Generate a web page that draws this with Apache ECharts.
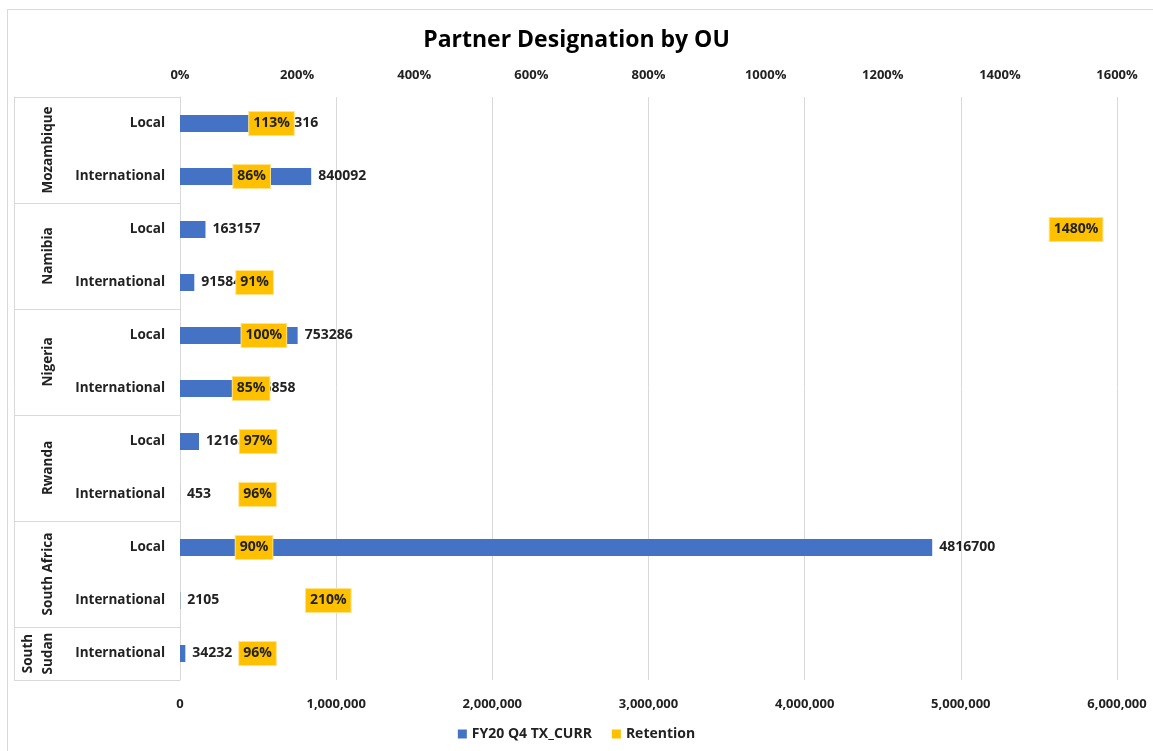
<!DOCTYPE html>
<html>
	<head>
		<meta charset="utf-8" />
		<script src="https://cdn.jsdelivr.net/npm/echarts@6/dist/echarts.min.js"></script>
		<title>Partner Designation by OU</title>
		<style>
			* {
				margin: 0;
				padding: 0;
			}
			body {
				background: #fff;
			}
			div#frame {
				position: absolute;
				left: 7px;
				top: 9px;
				width: 1200px;
				height: 800px;
				border-left: 1px solid #d9d9d9;
				border-top: 1px solid #d9d9d9;
			}
			div#chart {
				position: absolute;
				left: 0;
				top: 0;
				width: 1153px;
				height: 751px;
			}
		</style>
	</head>
	<body>
		<div id="frame"></div>
		<div id="chart"></div>
		<script>
			// data
			var partnerTypes = ['Local', 'International', 'Local', 'International', 'Local', 'International',
				'Local', 'International', 'Local', 'International', 'International'];
			var countries = ['Mozambique', 'Namibia', 'Nigeria', 'Rwanda', 'South Africa', 'South\nSudan'];
			var countrySizes = [2, 2, 2, 2, 2, 1];
			var txCurr = [533316, 840092, 163157, 91584, 753286, 386858, 121650, 453, 4816700, 2105, 34232];
			var retention = [113, 86, 1480, 91, 100, 85, 97, 96, 90, 210, 96];
			var txTicks = [0, 1000000, 2000000, 3000000, 4000000, 5000000, 6000000];
			var pctTicks = [0, 200, 400, 600, 800, 1000, 1200, 1400, 1600];

			// group boundaries and label positions on the band scale
			var groupEdges = [0];
			var groupMids = [];
			countrySizes.forEach(function (n) {
				var start = groupEdges[groupEdges.length - 1];
				groupMids.push(start + n / 2);
				groupEdges.push(start + n);
			});

			var font = "'Open Sans', sans-serif";
			var chart = echarts.init(document.getElementById('chart'));

			chart.setOption({
				textStyle: { fontFamily: font },
				title: {
					text: 'Partner Designation by OU',
					left: 'center',
					top: 24,
					textStyle: {
						fontFamily: font,
						fontSize: 23,
						fontWeight: 'bold',
						color: '#000'
					}
				},
				legend: {
					bottom: 5,
					left: 'center',
					itemWidth: 9,
					itemHeight: 9,
					itemGap: 20,
					icon: 'rect',
					textStyle: { fontSize: 14, fontWeight: 'bold', color: '#222' },
					data: ['FY20 Q4 TX_CURR', 'Retention']
				},
				grid: {
					left: 180,
					right: 36,
					top: 97,
					bottom: 71
				},
				xAxis: [{
					type: 'value',
					position: 'bottom',
					min: txTicks[0],
					max: txTicks[txTicks.length - 1],
					interval: txTicks[1] - txTicks[0],
					axisLine: { show: false },
					axisTick: { show: false },
					axisLabel: {
						margin: 18,
						fontSize: 13,
						fontWeight: 'bold',
						color: '#222',
						formatter: function (v) {
							return v.toLocaleString('en-US');
						}
					},
					splitLine: { lineStyle: { color: '#d9d9d9' } }
				}, {
					type: 'value',
					position: 'top',
					min: pctTicks[0],
					max: pctTicks[pctTicks.length - 1],
					interval: pctTicks[1] - pctTicks[0],
					axisLine: { show: false },
					axisTick: { show: false },
					axisLabel: {
						margin: 15,
						fontSize: 13,
						fontWeight: 'bold',
						color: '#222',
						formatter: function (v) {
							return v + '%';
						}
					},
					splitLine: { show: false }
				}],
				yAxis: [{
					type: 'category',
					inverse: true,
					data: partnerTypes,
					axisLine: { show: true, lineStyle: { color: '#d9d9d9' } },
					axisTick: { show: false },
					axisLabel: {
						margin: 15,
						fontSize: 13.5,
						fontWeight: 'bold',
						color: '#222'
					}
				}, {
					// outer level: country groups
					type: 'value',
					inverse: true,
					position: 'left',
					min: 0,
					max: partnerTypes.length,
					axisLine: { show: false },
					axisTick: {
						show: true,
						length: 166,
						customValues: groupEdges,
						lineStyle: { color: '#d9d9d9' }
					},
					axisLabel: {
						show: true,
						customValues: groupMids,
						rotate: 90,
						margin: 122,
						fontSize: 13.5,
						fontWeight: 'bold',
						color: '#222',
						lineHeight: 20,
						formatter: function (v) {
							var i = groupMids.indexOf(v);
							return i >= 0 ? countries[i] : '';
						}
					},
					splitLine: { show: false }
				}, {
					type: 'value',
					position: 'left',
					offset: 166,
					min: 0,
					max: partnerTypes.length,
					axisLine: { show: true, lineStyle: { color: '#d9d9d9' } },
					axisTick: { show: false },
					axisLabel: { show: false },
					splitLine: { show: false }
				}],
				series: [{
					name: 'FY20 Q4 TX_CURR',
					type: 'bar',
					xAxisIndex: 0,
					yAxisIndex: 0,
					barWidth: 17,
					data: txCurr,
					itemStyle: { color: '#4472c4' },
					label: {
						show: true,
						position: 'right',
						distance: 7,
						fontSize: 14,
						fontWeight: 'bold',
						color: '#222'
					}
				}, {
					name: 'Retention',
					type: 'scatter',
					xAxisIndex: 1,
					yAxisIndex: 0,
					zlevel: 1,
					symbolSize: 0,
					data: retention.map(function (v, i) {
						return [v, i];
					}),
					itemStyle: { color: '#ffc000', opacity: 1 },
					label: {
						show: true,
						position: 'right',
						distance: 3,
						fontSize: 14,
						fontWeight: 'bold',
						color: '#222',
						backgroundColor: '#ffc000',
						borderColor: '#ffe28a',
						borderWidth: 1,
						padding: [5, 4, 4, 4],
						formatter: function (p) {
							return p.value[0] + '%';
						}
					}
				}]
			});

			window.addEventListener('resize', function () {
				chart.resize();
			});
		</script>
	</body>
</html>
